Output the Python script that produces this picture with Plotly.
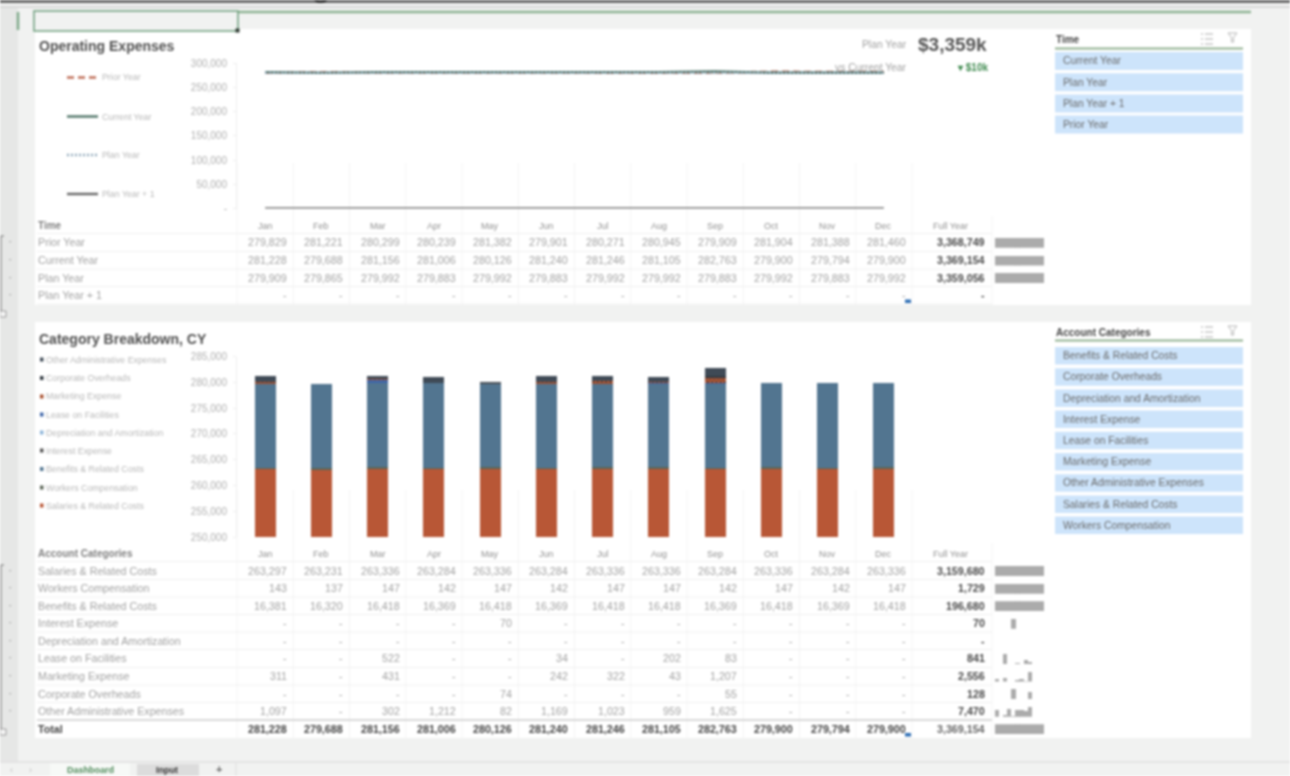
import plotly.graph_objects as go

# ---------- data ----------
months = ["Jan", "Feb", "Mar", "Apr", "May", "Jun", "Jul", "Aug", "Sep", "Oct", "Nov", "Dec"]
prior_year = [279829, 281221, 280299, 280239, 281382, 279901, 280271, 280945, 279909, 281904, 281388, 281460]
current_year = [281228, 279688, 281156, 281006, 280126, 281240, 281246, 281105, 282763, 279900, 279794, 279900]
plan_year = [279909, 279865, 279992, 279883, 279992, 279883, 279992, 279992, 279883, 279992, 279883, 279992]
plan_year_1 = [0] * 12
time_full_year = ["3,368,749", "3,369,154", "3,359,056", "-"]

salaries = [263297, 263231, 263336, 263284, 263336, 263284, 263336, 263336, 263284, 263336, 263284, 263336]
workers = [143, 137, 147, 142, 147, 142, 147, 147, 142, 147, 142, 147]
benefits = [16381, 16320, 16418, 16369, 16418, 16369, 16418, 16418, 16369, 16418, 16369, 16418]
interest = [0, 0, 0, 0, 70, 0, 0, 0, 0, 0, 0, 0]
depreciation = [0] * 12
lease = [0, 0, 522, 0, 0, 34, 0, 202, 83, 0, 0, 0]
marketing = [311, 0, 431, 0, 0, 242, 322, 43, 1207, 0, 0, 0]
corporate = [0, 0, 0, 0, 74, 0, 0, 0, 55, 0, 0, 0]
other_admin = [1097, 0, 302, 1212, 82, 1169, 1023, 959, 1625, 0, 0, 0]
total = current_year
cat_full_year = ["3,159,680", "1,729", "196,680", "70", "-", "841", "2,556", "128", "7,470"]
total_full_year = "3,369,154"

time_names = ["Prior Year", "Current Year", "Plan Year", "Plan Year + 1"]
cat_names = ["Salaries & Related Costs", "Workers Compensation", "Benefits & Related Costs", "Interest Expense",
             "Depreciation and Amortization", "Lease on Facilities", "Marketing Expense", "Corporate Overheads",
             "Other Administrative Expenses"]
time_slicer = ["Current Year", "Plan Year", "Plan Year + 1", "Prior Year"]
cat_slicer = ["Benefits & Related Costs", "Corporate Overheads", "Depreciation and Amortization", "Interest Expense",
              "Lease on Facilities", "Marketing Expense", "Other Administrative Expenses", "Salaries & Related Costs",
              "Workers Compensation"]
y1_ticks = [0, 50000, 100000, 150000, 200000, 250000, 300000]
y1_labels = ["-", "50,000", "100,000", "150,000", "200,000", "250,000", "300,000"]
y2_ticks = [250000, 255000, 260000, 265000, 270000, 275000, 280000, 285000]
y2_labels = ["250,000", "255,000", "260,000", "265,000", "270,000", "275,000", "280,000", "285,000"]

time_series = [prior_year, current_year, plan_year, plan_year_1]
cat_series = [salaries, workers, benefits, interest, depreciation, lease, marketing, corporate, other_admin]

# ---------- styles ----------
W, H = 1290, 776
GREY = "#a2a2a2"
DARK = "#4a4a4a"
SANS = "Liberation Sans"
line_styles = [("#c0705a", "7px,4px"), ("#4f7567", "solid"), ("#8fa9bb", "2px,2px"), ("#666666", "solid")]
cat_colors = ["#b85736", "#5c6658", "#527590", "#555555", "#8db4d8", "#3f66a8", "#a8502f", "#333a42", "#3f4a56"]


def X(v):
    return v / W


def Y(v):
    return 1 - v / H


shapes, notes = [], []


def rect(x0, y0, x1, y1, fill, line=None, lw=0, layer="below"):
    shapes.append(dict(type="rect", xref="paper", yref="paper", x0=X(x0), x1=X(x1), y0=Y(y0), y1=Y(y1),
                       fillcolor=fill, line=dict(color=line or fill, width=lw), layer=layer))


def seg(x0, y0, x1, y1, color, lw=1, layer="below", dash="solid"):
    shapes.append(dict(type="line", xref="paper", yref="paper", x0=X(x0), x1=X(x1), y0=Y(y0), y1=Y(y1),
                       line=dict(color=color, width=lw, dash=dash), layer=layer))


def text(x, y, s, size=10.7, color=GREY, anchor="left", bold=False):
    notes.append(dict(xref="paper", yref="paper", x=X(x), y=Y(y), text=f"<b>{s}</b>" if bold else s,
                      showarrow=False, xanchor=anchor, yanchor="middle", borderpad=0,
                      font=dict(size=size, color=color, family=SANS)))


CELL = 56.25
LEFT = 237


def fmt(v):
    return f"{v:,}" if v else "-"


fig = go.Figure()

# ---------- window frame ----------
rect(0, 8, 18, 762, "#e6e7e6")
rect(0, 0, W, 3, "#6a6a6a")
seg(0, 7, W, 7, "#cfcfcf", 1.5)
notes.append(dict(xref="paper", yref="paper", x=X(-4), y=Y(5.5), text="and drive Sales Budgets and Forecasts 16-18",
                  showarrow=False, xanchor="left", yanchor="bottom", font=dict(size=35, color="#222", family=SANS)))
rect(35, 29, 1251, 305, "#ffffff")
rect(35, 322, 1251, 738, "#ffffff")
seg(238, 12, 1251, 12, "#8fb394", 2.5)
rect(34, 11, 238, 31, "#f1f2f1", "#6e9f7c", 1.5)
rect(235.5, 28.5, 239.5, 32.5, "#2f3a33")
seg(18, 12, 18, 30, "#7fa98a", 2.5)

# ---------- bottom sheet tabs ----------
seg(0, 762, W, 762, "#dfdfdf", 1.5)
rect(50, 763, 130, 776, "#f7f9f7")
rect(137, 764, 199, 776, "#dcdcdc")
text(90, 769.7, "Dashboard", 9, "#4e8a5a", "center", True)
text(167, 769.7, "Input", 9, "#333333", "center", True)
text(219, 768.5, "+", 11, "#666666", "center", True)
text(11, 769.5, "‹", 9, "#bbbbbb", "center")
text(30, 769.5, "›", 9, "#bbbbbb", "center")
seg(236, 763, 236, 776, "#dddddd")

# ---------- outline brackets on the left ----------
for top, bottom, rows in ((236, 311, [242, 260, 277.5, 295]),
                          (565, 729, [570.5, 588, 605.7, 623.3, 640.7, 658.3, 676, 693.7, 711])):
    seg(1, top, 1, bottom, "#777777", 1)
    seg(1, top, 4, top, "#777777", 1)
    rect(0, bottom, 6, bottom + 6, "#f7f7f7", "#888888", 0.8)
    for r in rows:
        text(10, r, "·", 9, "#999999", "center", True)

# ---------- tables ----------
top_rows = [242.3, 260, 277.6, 295.3]
cat_rows = [570.6, 588.2, 605.8, 623.3, 640.8, 658.4, 676, 693.6, 711.2]
total_row = 728.8
for top, bottom in ((163, 305), (490, 738)):
    for i in range(13):
        seg(LEFT + i * CELL, top, LEFT + i * CELL, bottom, "#f1f1f1", 0.8)
seg(992, 216, 992, 305, "#f1f1f1", 0.8)
seg(992, 543, 992, 738, "#f1f1f1", 0.8)

text(37, 225, "Time", 10, "#808080", bold=True)
text(37, 553, "Account Categories", 10, "#808080", bold=True)
for header_y in (226, 553.5):
    for i, m in enumerate(months):
        text(LEFT + 28 + i * CELL, header_y, m, 9, "#919191", "center")
    text(951, header_y, "Full Year", 9, "#919191", "center")

for y in [233.5, 251.5, 269, 286.5, 304]:
    seg(37, y, 992, y, "#f0f0f0", 1)
for y in [561.5, 579.5, 597, 614.5, 632, 649.5, 667.5, 685, 702.5]:
    seg(37, y, 992, y, "#f0f0f0", 1)
seg(37, 720, 992, 720, "#cccccc", 1.6)


def table_row(y, name, values, full, color=GREY, name_color=GREY, bold=False, full_color=DARK):
    text(37, y, name, 10.7, name_color, bold=bold)
    for i, v in enumerate(values):
        text(288 + i * CELL, y, fmt(v), 10.7, color, "right", bold)
    text(985.5, y, full, 10.7, full_color, "right", True)


for y, name, vals, full in zip(top_rows, time_names, time_series, time_full_year):
    table_row(y, name, vals, full)
for y, name, vals, full in zip(cat_rows, cat_names, cat_series, cat_full_year):
    table_row(y, name, vals, full)
table_row(total_row, "Total", total, total_full_year, color="#444444", name_color="#444444", bold=True, full_color="#666666")
rect(905, 299.5, 911, 303, "#2f6fb5", layer="above")
rect(905, 733, 911, 736.5, "#2f6fb5", layer="above")

# ---------- chart 1: lines ----------
for name, vals, (color, dash) in zip(time_names, time_series, line_styles):
    fig.add_trace(go.Scatter(x=months, y=vals, name=name, mode="lines",
                             line=dict(color=color, dash=dash, width=2.4),
                             showlegend=False, xaxis="x", yaxis="y"))

# ---------- chart 2: stacked bars ----------
for i, (name, vals, color) in enumerate(zip(cat_names, cat_series, cat_colors)):
    marker = dict(color=color, line=dict(width=0))
    if name == "Marketing Expense":
        marker["pattern"] = dict(shape="x", fgcolor="#2a2a2a", size=3, solidity=0.4, bgcolor="#c8613a")
    fig.add_trace(go.Bar(x=months, y=vals, name=name, marker=marker, width=0.375, showlegend=False,
                         xaxis="x2", yaxis="y2"))

# ---------- in-cell sparklines ----------
spark_axes = {}
n = 3
spark_rows = list(zip(top_rows, time_series)) + list(zip(cat_rows, cat_series)) + [(total_row, total)]
for y, vals in spark_rows:
    peak = max(vals)
    if peak == 0:
        continue
    fig.add_trace(go.Bar(x=months, y=vals, width=1.04, marker=dict(color="#ababab", line=dict(width=0)),
                         showlegend=False, xaxis=f"x{n}", yaxis=f"y{n}"))
    spark_axes[f"xaxis{n}"] = dict(domain=[X(995), X(1044)], anchor=f"y{n}", visible=False, fixedrange=True,
                                   automargin=False, type="category", categoryorder="array",
                                   categoryarray=months, range=[-0.5, 11.5])
    spark_axes[f"yaxis{n}"] = dict(domain=[Y(y + 5.5), Y(y - 4.5)], anchor=f"x{n}", visible=False, fixedrange=True,
                                   automargin=False, range=[0, peak])
    n += 1

# ---------- titles, KPI, legends ----------
text(38, 45.5, "Operating Expenses", 14, "#505050", bold=True)
text(38, 338.5, "Category Breakdown, CY", 14, "#505050", bold=True)
text(908, 44, "Plan Year", 10.3, "#a0a0a0", "right")
text(988, 44, "$3,359k", 19, "#555555", "right", True)
text(908, 67, "vs Current Year", 10.3, "#a0a0a0", "right")
text(989, 67, "▾ $10k", 10, "#3f8a4f", "right", True)

for y, name, (color, dash) in zip([77.5, 116.5, 155, 194], time_names, line_styles):
    seg(67, y, 98, y, color, 2.4, dash=dash)
    text(101, y, name, 8.8, "#b8b8b8")

leg_rows = [359.5, 378, 396.5, 414.5, 432.5, 450.5, 469, 487.5, 505.5]
for y, name, color in zip(leg_rows, cat_names[::-1], cat_colors[::-1]):
    rect(40, y - 2, 43.5, y + 2, color)
    text(45, y, name, 8.8, "#b8b8b8")


# ---------- slicers ----------
def slicer(title, items, head_y, rule_y, first_y, step, height):
    text(1055, head_y, title, 10, "#444444", bold=True)
    seg(1055, rule_y, 1243, rule_y, "#8fb08f", 2)
    for k, item in enumerate(items):
        y0 = first_y + k * step
        rect(1055, y0, 1243, y0 + height, "#cde4fb")
        text(1062, y0 + height / 2, item, 10.3, "#6a6a6a")
    # multi-select icon
    for k in range(3):
        seg(1201, head_y - 5 + k * 5, 1203, head_y - 5 + k * 5, "#aaaaaa", 1)
        seg(1205, head_y - 5 + k * 5, 1213, head_y - 5 + k * 5, "#aaaaaa", 1)
    # clear-filter icon
    fx, fy = 1228, head_y - 6
    shapes.append(dict(type="path", xref="paper", yref="paper",
                       path=(f"M {X(fx)},{Y(fy)} L {X(fx + 9)},{Y(fy)} L {X(fx + 5.5)},{Y(fy + 4.5)} "
                             f"L {X(fx + 5.5)},{Y(fy + 9)} L {X(fx + 3.5)},{Y(fy + 9)} L {X(fx + 3.5)},{Y(fy + 4.5)} Z"),
                       line=dict(color="#b5b5b5", width=1), fillcolor="rgba(0,0,0,0)"))


slicer("Time", time_slicer, 39, 48.5, 52, 21.2, 18)
slicer("Account Categories", cat_slicer, 332, 340.5, 347, 21.2, 17.5)

# ---------- layout ----------
axis_common = dict(showgrid=False, zeroline=False, showline=False, fixedrange=True, showticklabels=False,
                   ticks="", type="category", categoryorder="array", categoryarray=months, range=[-0.5, 11.5],
                   automargin=False)
y_common = dict(showgrid=False, zeroline=False, showline=True, linecolor="#eeeeee", linewidth=1, fixedrange=True,
                ticks="outside", ticklen=3, tickcolor="#eeeeee", ticklabelstandoff=4, automargin=False,
                tickfont=dict(size=10, color="#b0b0b0", family=SANS))
fig.update_layout(
    template="none",
    width=W, height=H, autosize=False, margin=dict(l=0, r=0, t=0, b=0, pad=0),
    paper_bgcolor="#f1f2f1", plot_bgcolor="rgba(0,0,0,0)",
    barmode="stack", showlegend=False, hovermode=False,
    xaxis=dict(domain=[X(LEFT), X(LEFT + 12 * CELL)], anchor="y", **axis_common),
    yaxis=dict(domain=[Y(208.5), Y(63)], anchor="x", range=[0, 300000], tickvals=y1_ticks, ticktext=y1_labels, **y_common),
    xaxis2=dict(domain=[X(LEFT), X(LEFT + 12 * CELL)], anchor="y2", **axis_common),
    yaxis2=dict(domain=[Y(537), Y(356.5)], anchor="x2", range=[250000, 285000], tickvals=y2_ticks, ticktext=y2_labels, **y_common),
    shapes=shapes, annotations=notes,
)
fig.update_layout(**spark_axes)

fig.write_html("out.html", config=dict(displayModeBar=False),
               post_script="document.body.style.margin='0';document.body.style.overflow='hidden';"
                           "document.querySelector('.plotly-graph-div').style.filter='blur(0.8px)';")
